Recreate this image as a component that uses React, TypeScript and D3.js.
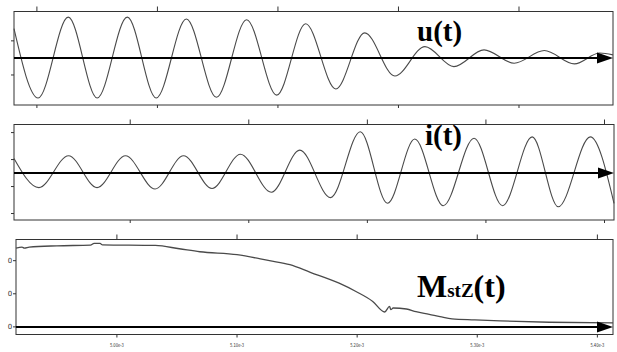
import React from 'react';
import * as d3 from 'd3';

// time in microseconds, values in arbitrary units

// u(t) - extrema of the voltage waveform
const uTime = [4981, 5001, 5026, 5050, 5075, 5099, 5124, 5149, 5174, 5199, 5223, 5248, 5272, 5297, 5322, 5346, 5371, 5396, 5421, 5446, 5467, 5478];
const uValue = [1.71, -2.35, 2.39, -2.35, 2.39, -2.35, 2.28, -2.31, 2.24, -2.18, 2.0, -1.82, 1.47, -1.06, 0.66, -0.51, 0.47, -0.31, 0.43, -0.35, 0.29, 0.18];

// i(t) - extrema of the current waveform
const iTime = [4902, 4923, 4948, 4972, 4996, 5021, 5045, 5069, 5093, 5119, 5143, 5169, 5194, 5217, 5240, 5264, 5290, 5314, 5339, 5361, 5388, 5408];
const iValue = [0.54, -0.54, 0.64, -0.54, 0.64, -0.59, 0.64, -0.57, 0.7, -0.71, 0.85, -0.91, 1.53, -1.12, 1.26, -1.21, 1.29, -1.21, 1.34, -1.25, 1.34, -1.12];

// MstZ(t)
const mTime = [4916, 4921, 4923, 4927, 4950, 4978, 4981, 4986, 4988, 5032, 5052, 5069, 5100, 5127, 5144, 5161, 5185, 5199, 5213, 5223, 5227, 5228, 5230, 5241, 5249, 5260, 5269, 5279, 5298, 5319, 5360, 5413];
const mValue = [2.38, 2.41, 2.38, 2.41, 2.45, 2.47, 2.52, 2.52, 2.48, 2.46, 2.36, 2.27, 2.18, 2.0, 1.88, 1.65, 1.32, 1.07, 0.77, 0.45, 0.62, 0.52, 0.57, 0.54, 0.46, 0.38, 0.31, 0.24, 0.21, 0.18, 0.14, 0.12];

const timeTicks = [5000, 5100, 5200, 5300, 5400];
const timeTickLabels = ['5.00e-3', '5.10e-3', '5.20e-3', '5.30e-3', '5.40e-3'];
const uTicks = [-1, 1];
const iTicks = [-1.5, -0.5, 0.5, 1.5];
const mTicks = [0, 1, 2];
const mTickLabels = ['0', '0', '0'];

const panels = [
  { key: 'u', time: uTime, value: uValue, tDomain: [4981, 5478], vDomain: [-2.76, 2.72], left: 14, right: 613, top: 11.5, bottom: 105, vTicks: uTicks, vLabels: null as string[] | null, tLabels: false },
  { key: 'i', time: iTime, value: iValue, tDomain: [4902, 5408], vDomain: [-1.74, 1.8], left: 14, right: 614, top: 124.5, bottom: 220, vTicks: iTicks, vLabels: null as string[] | null, tLabels: false },
  { key: 'm', time: mTime, value: mValue, tDomain: [4916, 5413], vDomain: [-0.23, 2.64], left: 16, right: 613, top: 239.5, bottom: 334.5, vTicks: mTicks, vLabels: mTickLabels, tLabels: true },
];

const Panel = ({ p }: { p: typeof panels[number] }) => {
  const x = d3.scaleLinear().domain(p.tDomain).range([p.left, p.right]);
  const y = d3.scaleLinear().domain(p.vDomain).range([p.bottom, p.top]);
  const pts = p.time.map((t, k) => [t, p.value[k]] as [number, number]);
  const line = d3.line<[number, number]>()
    .x(d => x(d[0]))
    .y(d => y(d[1]))
    .curve(d3.curveMonotoneX);
  const y0 = y(0);
  const tip = p.right;

  return (
    <g>
      {/* frame */}
      <rect x={p.left} y={p.top} width={p.right - p.left} height={p.bottom - p.top} fill="none" stroke="#333" strokeWidth={1} />
      {/* time ticks top & bottom */}
      {timeTicks.map((t, k) => (
        <g key={k}>
          <line x1={x(t)} x2={x(t)} y1={p.top - 5} y2={p.top} stroke="#333" />
          <line x1={x(t)} x2={x(t)} y1={p.bottom} y2={p.bottom + 3} stroke="#333" />
          {p.tLabels && (
            <text x={x(t)} y={p.bottom + 12} fontSize={5.5} fontFamily="DejaVu Sans" textAnchor="middle" fill="#333"
              textLength={14} lengthAdjust="spacingAndGlyphs">{timeTickLabels[k]}</text>
          )}
        </g>
      ))}
      {/* value ticks */}
      {p.vTicks.map((v, k) => (
        <g key={k}>
          <line x1={p.left - 3} x2={p.left} y1={y(v)} y2={y(v)} stroke="#333" />
          {p.vLabels && (
            <text x={p.left - 6} y={y(v) + 2.5} fontSize={7} fontFamily="DejaVu Sans" textAnchor="middle" fill="#333">{p.vLabels[k]}</text>
          )}
        </g>
      ))}
      {/* waveform */}
      <path d={line(pts) || ''} fill="none" stroke="#4a4a4a" strokeWidth={p.key === 'm' ? 1.3 : 1.1} />
      {/* zero axis with arrow */}
      <line x1={p.left} x2={tip - 14} y1={y0} y2={y0} stroke="#000" strokeWidth={2} />
      <path d={`M${tip - 16},${y0 - 5.5}L${tip},${y0}L${tip - 16},${y0 + 5.5}Z`} fill="#000" />
    </g>
  );
};

const App = () => {
  return (
    <svg width={617} height={352} style={{ position: 'absolute', left: 0, top: 0, background: '#fff' }}>
      <rect width={617} height={352} fill="#fff" />
      {panels.map(p => <Panel key={p.key} p={p} />)}
      <text x={417} y={41} fontFamily="Liberation Serif" fontWeight="bold" fontSize={29} fill="#000">u(t)</text>
      <text x={425} y={145} fontFamily="Liberation Serif" fontWeight="bold" fontSize={29} fill="#000">i(t)</text>
      <text x={417} y={297} fontFamily="Liberation Serif" fontWeight="bold" fill="#000">
        <tspan fontSize={32}>M</tspan>
        <tspan fontSize={19}>stZ</tspan>
        <tspan fontSize={32}>(t)</tspan>
      </text>
    </svg>
  );
};

export default App;
